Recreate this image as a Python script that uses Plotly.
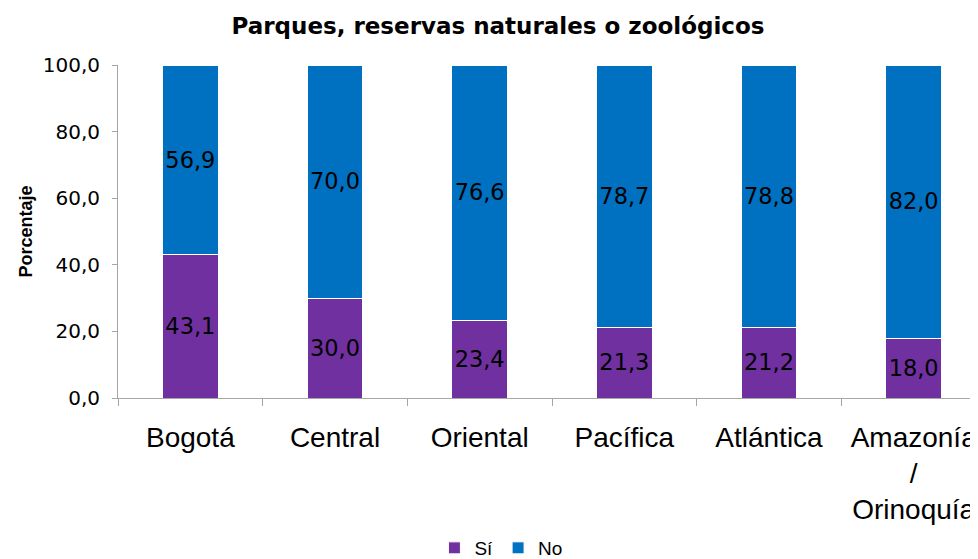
import plotly.graph_objects as go

categories = ["Bogotá", "Central", "Oriental", "Pacífica", "Atlántica", "Amazonía<br>/<br>Orinoquía"]
si_values = [43.1, 30.0, 23.4, 21.3, 21.2, 18.0]
no_values = [56.9, 70.0, 76.6, 78.7, 78.8, 82.0]
y_ticks = [0, 20, 40, 60, 80, 100]

def fmt(v):
    return f"{v:.1f}".replace(".", ",")

LIB = "Liberation Sans, Arial"
DJ = "DejaVu Sans"

fig = go.Figure()
fig.add_trace(go.Bar(
    x=categories, y=si_values, name="Sí",
    marker=dict(color="#7030A0", line=dict(color="white", width=1)),
    text=[fmt(v) for v in si_values], textposition="inside",
    insidetextanchor="middle", textangle=0,
    textfont=dict(size=26, color="black", family=DJ),
))
fig.add_trace(go.Bar(
    x=categories, y=no_values, name="No",
    marker=dict(color="#0070C0", line=dict(color="white", width=1)),
    text=[fmt(v) for v in no_values], textposition="inside",
    insidetextanchor="middle", textangle=0,
    textfont=dict(size=26, color="black", family=DJ),
))

fig.update_layout(
    barmode="stack",
    bargap=0.613,
    width=978, height=559,
    paper_bgcolor="white", plot_bgcolor="white",
    margin=dict(l=110, r=0, t=57, b=169),
    separators=",.",
    font=dict(family=LIB, color="black"),
    uniformtext=dict(mode=False),
    title=dict(text="<b>Parques, reservas naturales o zoológicos</b>",
               x=0.501, xref="container", xanchor="center",
               y=0.968, yref="container", yanchor="middle",
               font=dict(size=23, color="black", family=DJ)),
    legend=dict(orientation="h", x=0.504, xref="container", xanchor="center",
                y=0.0, yref="container", yanchor="bottom",
                font=dict(size=19, family=LIB), traceorder="normal",
                itemwidth=30, tracegroupgap=0),
)
fig.update_xaxes(
    type="category", range=[-0.5, 5.5], automargin=False,
    showline=True, linecolor="#A6A6A6", linewidth=1,
    ticks="outside", tickson="boundaries", ticklen=7, tickcolor="#A6A6A6",
    ticklabelstandoff=14,
    tickfont=dict(size=28, color="black", family=LIB), showgrid=False,
)
fig.update_yaxes(
    range=[0, 100], tickvals=y_ticks, tickformat=".1f", automargin=False,
    showline=True, linecolor="#A6A6A6", linewidth=1,
    ticks="outside", ticklen=5, tickcolor="#A6A6A6", ticklabelstandoff=8,
    tickfont=dict(size=20, color="black", family=DJ), showgrid=False, zeroline=False,
    title=dict(text="<b>Porcentaje</b>", font=dict(size=18, color="black", family=LIB), standoff=5),
)
fig.write_html("out.html")
